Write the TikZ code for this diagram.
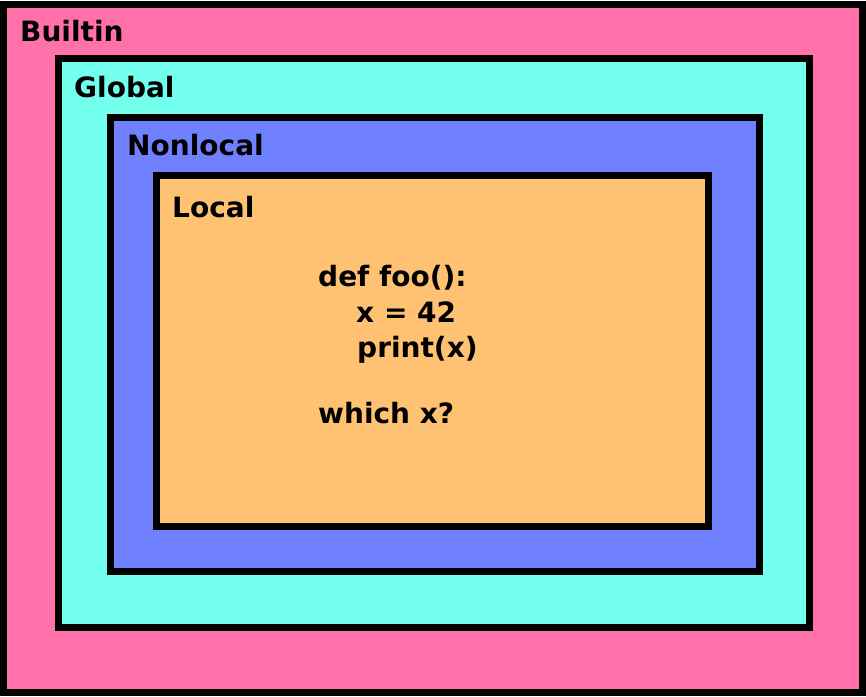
\documentclass[tikz,border=0pt]{standalone}
\usepackage{fontspec}
\setmainfont{DejaVu Sans}
\usepackage{xcolor}
\usepackage{tikz}
\usetikzlibrary{positioning}
\definecolor{builtinpink}{HTML}{FF71A8}
\definecolor{globalcyan}{HTML}{73FFEE}
\definecolor{nonlocalblue}{HTML}{7081FF}
\definecolor{localorange}{HTML}{FFC172}
\tikzset{
  scopebox/.style={draw=black, fill=#1, line width=7pt},
  scopebox/.default=builtinpink,
  scopelabel/.style={anchor=base west, inner sep=0pt,
    font=\fontsize{28}{33}\selectfont\bfseries},
  codeline/.style={anchor=base west, inner sep=0pt,
    font=\fontsize{28}{33}\selectfont\bfseries},
}

\begin{document}
\begin{tikzpicture}[x=1pt, y=-1pt]
    \useasboundingbox (0,0) rectangle (866,696);
    % nested scopes
    \draw[scopebox=builtinpink] (3.5,4) rectangle (862,692.5);
    \draw[scopebox=globalcyan] (58.5,58.5) rectangle (809,627.5);
    \draw[scopebox=nonlocalblue] (110,117.5) rectangle (759,571.5);
    \draw[scopebox=localorange] (156.5,175) rectangle (708,526.5);
    \node[scopelabel] (builtin) at (20,41) {Builtin};
    \node[scopelabel] (global) at (74,97) {Global};
    \node[scopelabel] (nonlocal) at (127,155) {Nonlocal};
    \node[scopelabel] (local) at (172,217) {Local};
    % the code
    \node[codeline] (def) at (318,286) {def foo():};
    \node[codeline] (assign) at (356,322) {x = 42};
    \node[codeline] (print) at (357,357) {print(x)};
    \node[codeline] (which) at (318,423) {which x?};
\end{tikzpicture}
\end{document}
